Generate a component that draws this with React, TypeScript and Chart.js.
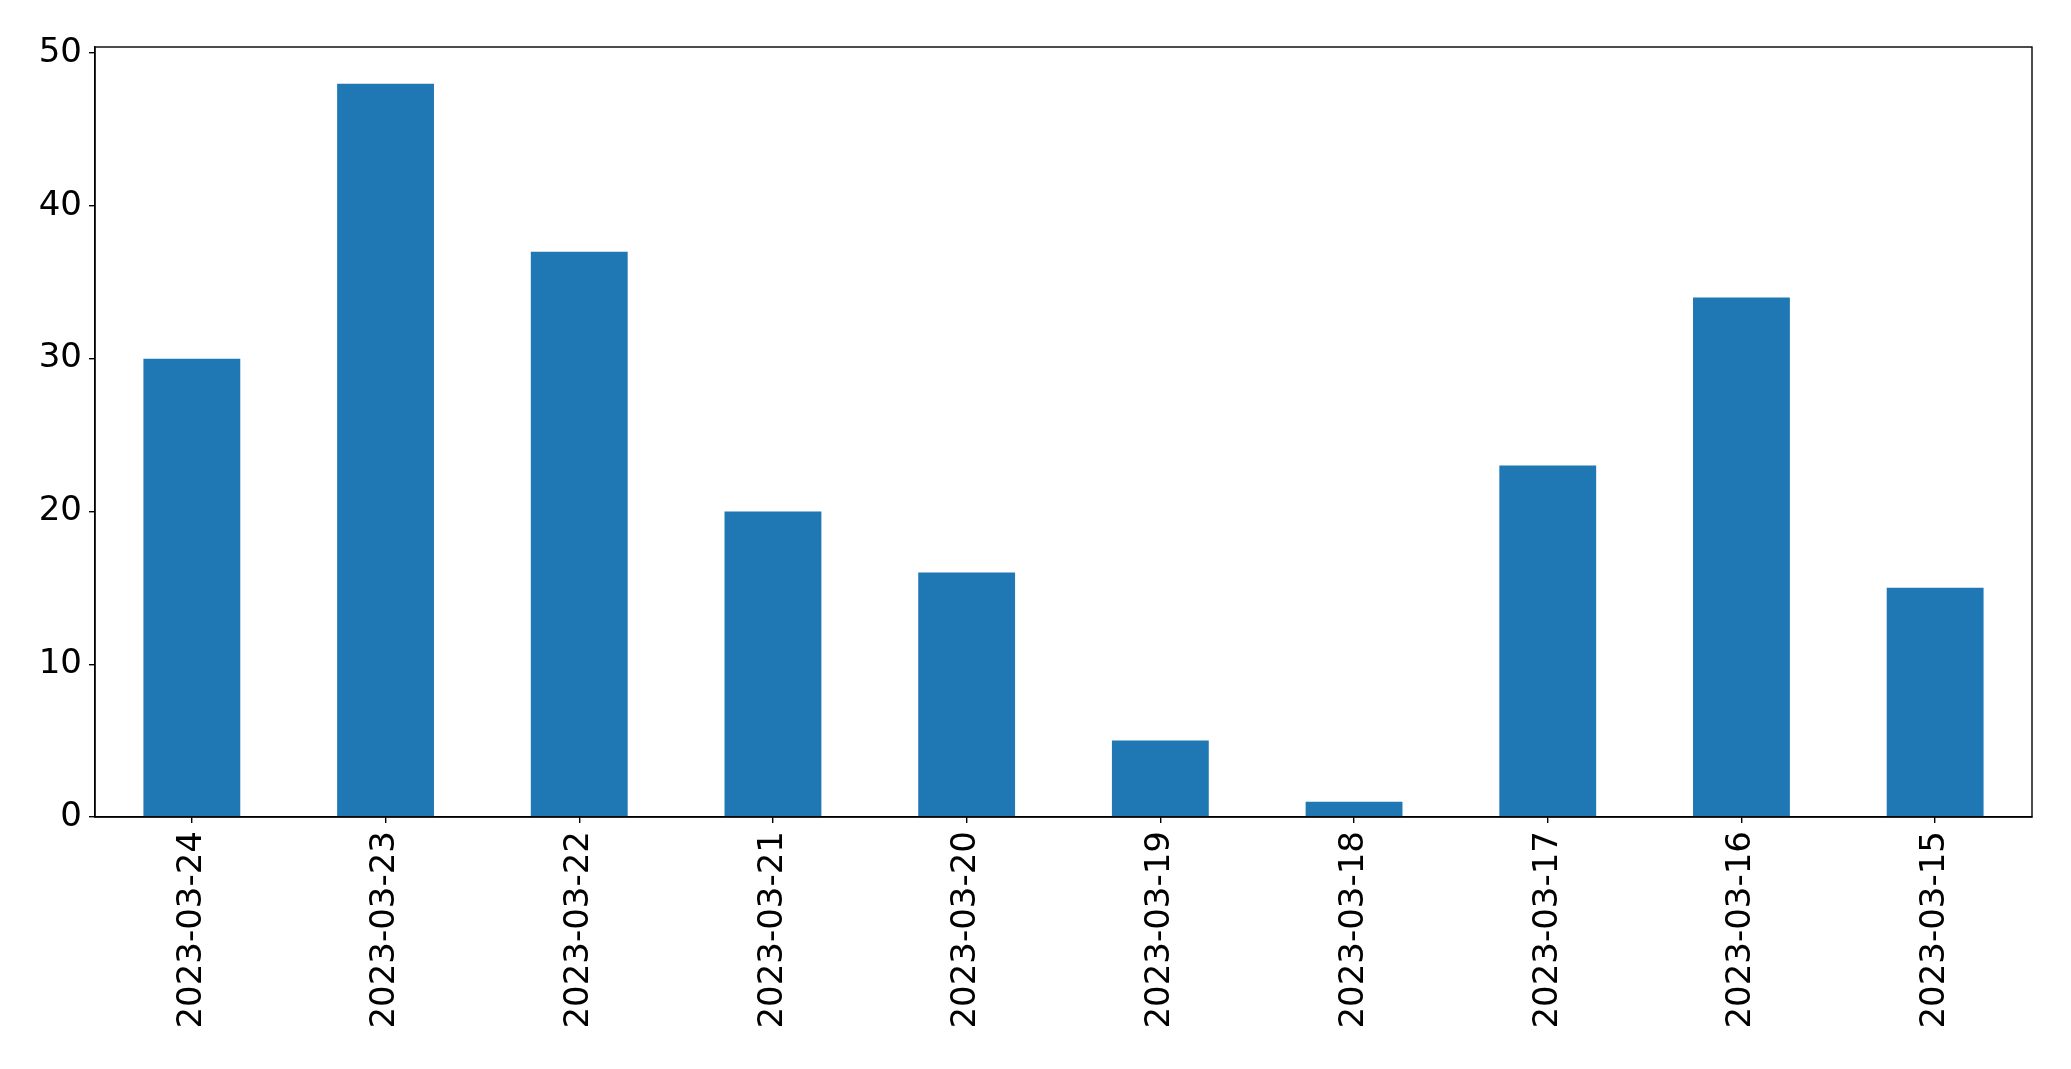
import React, { useEffect, useRef } from "react";
import { Chart, registerables } from "chart.js";

Chart.register(...registerables);

const categories = [
  "2023-03-24",
  "2023-03-23",
  "2023-03-22",
  "2023-03-21",
  "2023-03-20",
  "2023-03-19",
  "2023-03-18",
  "2023-03-17",
  "2023-03-16",
  "2023-03-15",
];
const counts = [30, 48, 37, 20, 16, 5, 1, 23, 34, 15];
const yTicks = [0, 10, 20, 30, 40, 50];
const yMax = 50.4;

const W = 2071;
const H = 1069;
const PLOT_LEFT = 95;
const PLOT_TOP = 47;
const PLOT_RIGHT = 2032;
const PLOT_BOTTOM = 817;

const framePlugin = {
  id: "frame",
  afterDraw(chart: any) {
    const { ctx, chartArea } = chart;
    ctx.save();
    ctx.strokeStyle = "#000";
    ctx.lineWidth = 1.4;
    ctx.strokeRect(
      chartArea.left,
      chartArea.top,
      chartArea.right - chartArea.left,
      chartArea.bottom - chartArea.top
    );
    ctx.restore();
  },
};

export default function App() {
  const ref = useRef<HTMLCanvasElement | null>(null);

  useEffect(() => {
    document.body.style.margin = "0";
    const canvas = ref.current;
    if (!canvas) return;
    const font = { family: "'DejaVu Sans', sans-serif", size: 34 };
    const chart = new Chart(canvas, {
      type: "bar",
      data: {
        labels: categories,
        datasets: [
          {
            data: counts,
            backgroundColor: "#1f77b4",
            borderWidth: 0,
            categoryPercentage: 1,
            barPercentage: 0.5,
          },
        ],
      },
      options: {
        responsive: false,
        animation: false,
        devicePixelRatio: 1,
        layout: {
          padding: {
            left: 0,
            top: PLOT_TOP,
            right: W - PLOT_RIGHT,
            bottom: 0,
          },
        },
        plugins: {
          legend: { display: false },
          tooltip: { enabled: false },
          title: { display: false },
        },
        scales: {
          x: {
            type: "category",
            offset: true,
            grid: {
              display: true,
              offset: false,
              drawOnChartArea: false,
              drawTicks: true,
              tickLength: 6,
              color: "#000",
              lineWidth: 1.4,
            },
            border: { display: true, color: "#000", width: 1.4 },
            ticks: {
              color: "#000",
              font,
              minRotation: 90,
              maxRotation: 90,
              padding: 8,
              autoSkip: false,
            },
            afterFit(scale: any) {
              scale.height = H - PLOT_BOTTOM;
            },
          },
          y: {
            min: 0,
            max: yMax,
            afterBuildTicks(scale: any) {
              scale.ticks = yTicks.map((v) => ({ value: v }));
            },
            grid: {
              display: true,
              drawOnChartArea: false,
              drawTicks: true,
              tickLength: 6,
              color: "#000",
              lineWidth: 1.4,
            },
            border: { display: true, color: "#000", width: 1.4 },
            ticks: {
              color: "#000",
              font,
              padding: 7,
            },
            afterFit(scale: any) {
              scale.width = PLOT_LEFT;
            },
          },
        },
      },
      plugins: [framePlugin],
    });
    return () => chart.destroy();
  }, []);

  return (
    <div style={{ width: W, height: H, background: "#fff" }}>
      <canvas ref={ref} width={W} height={H} style={{ display: "block" }} />
    </div>
  );
}
